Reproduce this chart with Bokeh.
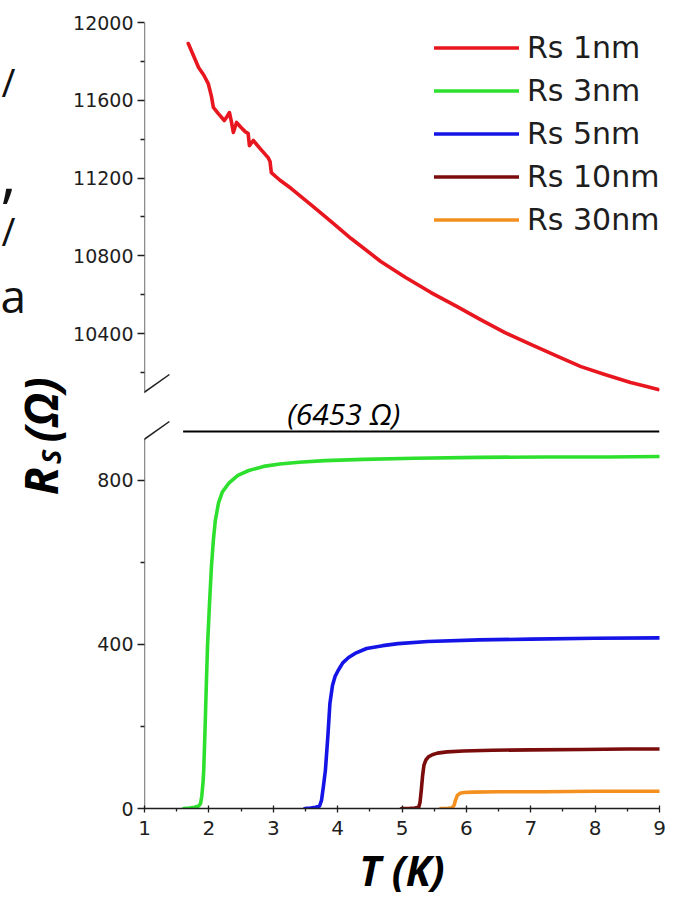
import math

from bokeh.plotting import figure
from bokeh.layouts import row
from bokeh.models import (Range1d, FixedTicker, Legend, LegendItem, Label, Arrow)
from bokeh.embed import file_html
from bokeh.resources import INLINE

# ---------------------------------------------------------------- data
T_1NM = [1.68, 1.76, 1.84, 1.92, 1.99, 2.04, 2.07, 2.15, 2.24, 2.28, 2.32, 2.35,
         2.38, 2.43, 2.50, 2.56, 2.61, 2.63, 2.69, 2.80, 2.92, 2.95, 2.97, 3.10,
         3.28, 3.64, 3.90, 4.21, 4.67, 5.05, 5.45, 5.85, 6.22, 6.60, 7.00, 7.40,
         7.78, 8.15, 8.55, 8.80, 8.98]
R_1NM = [11892, 11830, 11769, 11730, 11686, 11620, 11563, 11530, 11496, 11515,
         11537, 11490, 11434, 11486, 11460, 11440, 11429, 11367, 11393, 11350,
         11305, 11285, 11228, 11190, 11146, 11048, 10976, 10889, 10771, 10690,
         10611, 10540, 10472, 10405, 10344, 10285, 10230, 10190, 10148, 10128,
         10112]

T_3NM = [1.61, 1.70, 1.78, 1.84, 1.87, 1.89, 1.91, 1.92, 1.94, 1.96, 1.98, 2.01,
         2.04, 2.07, 2.10, 2.15, 2.21, 2.31, 2.45, 2.62, 2.85, 3.10, 3.40, 3.80,
         4.40, 5.20, 6.20, 7.20, 8.20, 9.00]
R_3NM = [0, 1, 3, 6, 12, 30, 65, 93, 190, 300, 400, 500, 590, 655, 702, 745, 772,
         793, 812, 824, 834, 840, 844, 848, 851, 854, 856, 857, 857, 858]

T_5NM = [3.49, 3.58, 3.66, 3.72, 3.75, 3.78, 3.81, 3.85, 3.88, 3.92, 3.96, 4.01,
         4.08, 4.17, 4.27, 4.45, 4.70, 4.94, 5.40, 6.20, 7.00, 8.00, 9.00]
R_5NM = [0, 1, 3, 6, 20, 55, 93, 180, 256, 300, 322, 337, 355, 368, 378, 390,
         397, 402, 407, 411, 413, 415, 416]

T_10NM = [4.99, 5.10, 5.20, 5.26, 5.28, 5.30, 5.32, 5.34, 5.37, 5.41, 5.47, 5.55,
          5.70, 5.95, 6.40, 7.00, 7.80, 8.50, 9.00]
R_10NM = [0, 0, 1, 3, 15, 45, 80, 105, 118, 126, 131, 135, 138, 140, 142, 143,
          144, 145, 145]

T_30NM = [5.60, 5.70, 5.78, 5.81, 5.83, 5.86, 5.90, 5.96, 6.10, 6.50, 7.20, 8.00, 9.00]
R_30NM = [0, 0, 2, 8, 20, 32, 37, 39, 40, 41, 41, 42, 42]

SERIES_LABELS = ["Rs 1nm", "Rs 3nm", "Rs 5nm", "Rs 10nm", "Rs 30nm"]
SERIES_COLORS = ["#e8161e", "#2ee02e", "#1414e6", "#7a0c0c", "#f3901f"]

X_TICKS = [1, 2, 3, 4, 5, 6, 7, 8, 9]
X_MINOR = [1.5, 2.5, 3.5, 4.5, 5.5, 6.5, 7.5, 8.5]
LOWER_TICKS = [0, 400, 800]
LOWER_MINOR = [200, 600]
UPPER_TICKS = [10400, 10800, 11200, 11600, 12000]
UPPER_MINOR = [10200, 10600, 11000, 11400, 11800]

RQ_LABEL = "(6453 Ω)"          # pair quantum resistance h/4e², marked at the break
RQ_T_START = 1.6

# visible span of each half of the broken axis
LOWER_SPAN = (0, 902)
UPPER_SPAN = (10097, 12000)

# -------------------------------------------------------------- layout
W, H = 674, 903
SIDE_W = 70                        # strip holding the rotated y title
B_LEFT, B_RIGHT, B_TOP, B_BOTTOM = 72, 15, 22, 95
FRAME_X0 = SIDE_W + B_LEFT
FRAME_H = H - B_TOP - B_BOTTOM
PANEL_H = 370                      # height of each half, the rest is the gap

INK = "#1e1e1e"

lower_range = Range1d(LOWER_SPAN[0],
                      LOWER_SPAN[0] + (LOWER_SPAN[1] - LOWER_SPAN[0]) * FRAME_H / PANEL_H)
upper_range = Range1d(UPPER_SPAN[1] - (UPPER_SPAN[1] - UPPER_SPAN[0]) * FRAME_H / PANEL_H,
                      UPPER_SPAN[1])


def upper_on_lower(v):
    """Position of an upper-half value on the shared (lower) y coordinate."""
    f = (v - upper_range.start) / (upper_range.end - upper_range.start)
    return round(lower_range.start + f * (lower_range.end - lower_range.start), 4)


p = figure(width=W - SIDE_W, height=H, x_range=Range1d(X_TICKS[0], X_TICKS[-1]),
           y_range=lower_range, output_backend="svg", toolbar_location=None,
           min_border_left=B_LEFT, min_border_right=B_RIGHT,
           min_border_top=B_TOP, min_border_bottom=B_BOTTOM)
p.extra_y_ranges = {"upper": upper_range, "py": Range1d(H - B_BOTTOM, B_TOP)}
p.extra_x_ranges = {"px": Range1d(FRAME_X0, W - B_RIGHT)}
p.outline_line_color = None
p.grid.visible = False
p.background_fill_color = "white"
p.border_fill_color = "white"

# ---------------------------------------------------------------- curves
series = [(T_1NM, R_1NM, "upper"), (T_3NM, R_3NM, "default"), (T_5NM, R_5NM, "default"),
          (T_10NM, R_10NM, "default"), (T_30NM, R_30NM, "default")]
renderers = []
for (t, r, yr), color in zip(series, SERIES_COLORS):
    renderers.append(p.line(t, r, y_range_name=yr, line_color=color, line_width=3.6,
                            line_join="round", line_cap="round"))

# ------------------------------------------------------------------ axes
yax = p.yaxis[0]
upper_pos = [upper_on_lower(v) for v in UPPER_TICKS]
yax.ticker = FixedTicker(ticks=LOWER_TICKS + upper_pos,
                         minor_ticks=LOWER_MINOR + [upper_on_lower(v) for v in UPPER_MINOR])
overrides = {float(v): str(v) for v in LOWER_TICKS}
overrides.update({pos: str(v) for pos, v in zip(upper_pos, UPPER_TICKS)})
yax.major_label_overrides = overrides
yax.axis_line_color = None
yax.major_tick_in = 0
yax.major_tick_out = 7
yax.minor_tick_in = 0
yax.minor_tick_out = 4
yax.major_tick_line_color = INK
yax.minor_tick_line_color = INK
yax.major_tick_line_width = 1.3
yax.minor_tick_line_width = 1.3
yax.major_label_standoff = 4
yax.major_label_text_font = "DejaVu Sans"
yax.major_label_text_font_size = "19px"
yax.major_label_text_color = INK

xax = p.xaxis[0]
xax.ticker = FixedTicker(ticks=X_TICKS, minor_ticks=X_MINOR)
xax.axis_line_color = INK
xax.axis_line_width = 1.3
xax.major_tick_in = 3
xax.major_tick_out = 4
xax.minor_tick_in = 0
xax.minor_tick_out = 3
xax.major_tick_line_color = INK
xax.minor_tick_line_color = INK
xax.major_tick_line_width = 1.3
xax.minor_tick_line_width = 1.3
xax.major_label_standoff = 8
xax.major_label_text_font = "DejaVu Sans"
xax.major_label_text_font_size = "20px"
xax.major_label_text_color = INK
xax.axis_label = "T (K)"
xax.axis_label_text_font = "Open Sans"
xax.axis_label_text_font_style = "bold italic"
xax.axis_label_text_font_size = "41px"
xax.axis_label_text_color = "black"
xax.axis_label_standoff = 4

# spine of each half of the broken y axis
x0 = p.x_range.start
p.add_layout(Arrow(start=None, end=None, x_start=x0, y_start=LOWER_SPAN[0],
                   x_end=x0, y_end=LOWER_SPAN[1], line_color=INK, line_width=1.3))
p.add_layout(Arrow(start=None, end=None, x_start=x0, y_start=UPPER_SPAN[0],
                   x_end=x0, y_end=UPPER_SPAN[1], y_range_name="upper",
                   line_color=INK, line_width=1.3))

# break marks across the axis
for y_mid in (392, 439):
    p.add_layout(Arrow(start=None, end=None, x_start=116, y_start=y_mid + 18,
                       x_end=167, y_end=y_mid - 18, x_range_name="px", y_range_name="py",
                       line_color=INK, line_width=1.5))

# level of the pair quantum resistance, drawn in the gap between the halves
p.segment(x0=[RQ_T_START], y0=[431], x1=[p.x_range.end], y1=[431],
          y_range_name="py", line_color="black", line_width=2.2)
p.add_layout(Label(x=342, y=413, x_range_name="px", y_range_name="py", text=RQ_LABEL,
                   text_font="Open Sans", text_font_style="italic",
                   text_font_size="30px", text_color="black",
                   text_align="center", text_baseline="alphabetic"))

# ---------------------------------------------------------------- legend
legend = Legend(items=[LegendItem(label=lab, renderers=[r])
                       for lab, r in zip(SERIES_LABELS, renderers)],
                location=(432 - FRAME_X0, (H - B_BOTTOM) - 237), orientation="vertical",
                background_fill_alpha=0, border_line_color=None,
                label_text_font="DejaVu Sans", label_text_font_size="30px",
                label_text_color=INK, glyph_width=85, glyph_height=35,
                label_height=35, label_standoff=8, spacing=8, padding=0, margin=0)
p.add_layout(legend)

# ------------------------------------------- side strip: rotated y title
side = figure(width=SIDE_W, height=H, x_range=Range1d(0, SIDE_W), y_range=Range1d(H, 0),
              output_backend="svg", toolbar_location=None, min_border=0,
              x_axis_location=None, y_axis_location=None)
side.outline_line_color = None
side.grid.visible = False
side.background_fill_color = "white"
side.border_fill_color = "white"

ylab_style = dict(angle=math.pi / 2, text_font="Open Sans", text_font_style="bold italic",
                  text_color="black", text_align="center", text_baseline="middle")
side.add_layout(Label(x=39, y=527, text="R", text_font_size="46px", **ylab_style))
side.add_layout(Label(x=50, y=499, text="S", text_font_size="27px", **ylab_style))
side.add_layout(Label(x=39, y=445, text="(Ω)", text_font_size="46px", **ylab_style))

# neighbouring slide text at the left edge
for ch, xx, yy, size in (("/", 1, 68, "38px"), (",", 0, 174, "62px"),
                         ("/", 1, 240, "38px"), ("a", 0, 313, "46px")):
    side.add_layout(Label(x=xx, y=yy, text=ch, text_font="Open Sans",
                          text_font_size=size, text_color="#111111",
                          text_baseline="alphabetic"))

open("out.html", "w").write(file_html(row(side, p), INLINE))
